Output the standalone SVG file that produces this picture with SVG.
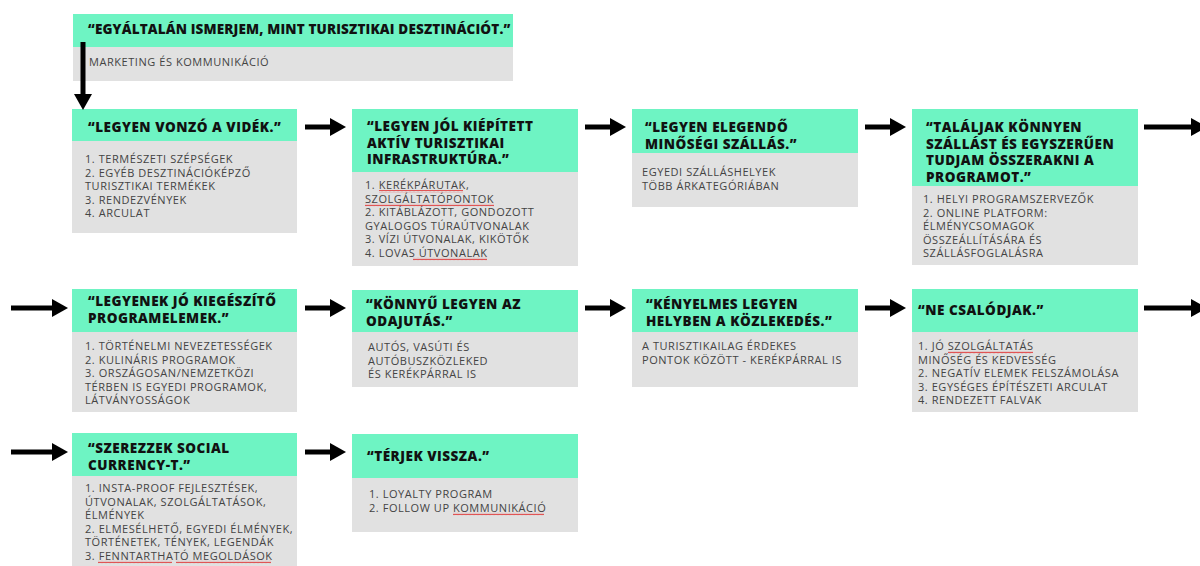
<svg xmlns="http://www.w3.org/2000/svg" width="1200" height="566" viewBox="0 0 1200 566">
<defs>
<style>
.hd{fill:#6EF4C3}
.bd{fill:#E1E1E1}
.t{font-family:"Open Sans","Liberation Sans",sans-serif;font-weight:800;font-size:13.5px;letter-spacing:0.5px;fill:#111}
.b{font-family:"Open Sans","Liberation Sans",sans-serif;font-size:11px;letter-spacing:0.55px;fill:#444}
.c{stroke:#000;stroke-width:5;fill:none}
.sq{fill:url(#squig)}
</style>
<marker id="ah" markerUnits="userSpaceOnUse" markerWidth="16" markerHeight="18" refX="0" refY="9" orient="auto" viewBox="0 0 16 18">
<path d="M0,0 L16,9 L0,18 Z" fill="#000"/>
</marker>
<pattern id="squig" patternUnits="userSpaceOnUse" width="4" height="3">
<path d="M0,2.2 L1,0.8 L2,2.2 L3,0.8 L4,2.2" stroke="#E03030" stroke-width="0.8" fill="none"/>
</pattern>
</defs>
<rect width="1200" height="566" fill="#fff"/>

<g id="n0">
<rect class="hd" x="73" y="14" width="440" height="33"/>
<rect class="bd" x="73" y="47" width="440" height="34"/>
<text class="t" x="88" y="34" style="letter-spacing:0.15px">“EGYÁLTALÁN ISMERJEM, MINT TURISZTIKAI DESZTINÁCIÓT.”</text>
<text class="b" x="89" y="66">MARKETING ÉS KOMMUNIKÁCIÓ</text>
</g>

<g id="n1">
<rect class="hd" x="72" y="109" width="225" height="32"/>
<rect class="bd" x="72" y="141" width="225" height="92"/>
<text class="t" x="88" y="132">“LEGYEN VONZÓ A VIDÉK.”</text>
<text class="b"><tspan x="85" y="163">1. TERMÉSZETI SZÉPSÉGEK</tspan><tspan x="85" y="176.5">2. EGYÉB DESZTINÁCIÓKÉPZŐ</tspan><tspan x="85" y="190">TURISZTIKAI TERMÉKEK</tspan><tspan x="85" y="203.5">3. RENDEZVÉNYEK</tspan><tspan x="85" y="217">4. ARCULAT</tspan></text>
</g>

<g id="n2">
<rect class="hd" x="352" y="109" width="226" height="63"/>
<rect class="bd" x="352" y="172" width="226" height="94"/>
<text class="t"><tspan x="367" y="131">“LEGYEN JÓL KIÉPÍTETT</tspan><tspan x="367" y="148">AKTÍV TURISZTIKAI</tspan><tspan x="367" y="164">INFRASTRUKTÚRA.”</tspan></text>
<text class="b"><tspan x="365" y="189">1. KERÉKPÁRUTAK,</tspan><tspan x="365" y="202.5">SZOLGÁLTATÓPONTOK</tspan><tspan x="365" y="216">2. KITÁBLÁZOTT, GONDOZOTT</tspan><tspan x="365" y="229.5">GYALOGOS TÚRAÚTVONALAK</tspan><tspan x="365" y="243">3. VÍZI ÚTVONALAK, KIKÖTŐK</tspan><tspan x="365" y="256.5">4. LOVAS ÚTVONALAK</tspan></text>
<rect class="sq" x="379" y="190" width="84" height="3"/>
<rect class="sq" x="365" y="203.5" width="129" height="3"/>
<rect class="sq" x="413" y="257.5" width="74" height="3"/>
</g>

<g id="n3">
<rect class="hd" x="632" y="109" width="226" height="44"/>
<rect class="bd" x="632" y="153" width="226" height="54"/>
<text class="t"><tspan x="645" y="132">“LEGYEN ELEGENDŐ</tspan><tspan x="645" y="149">MINŐSÉGI SZÁLLÁS.”</tspan></text>
<text class="b"><tspan x="642" y="176">EGYEDI SZÁLLÁSHELYEK</tspan><tspan x="642" y="189.5">TÖBB ÁRKATEGÓRIÁBAN</tspan></text>
</g>

<g id="n4">
<rect class="hd" x="912" y="109" width="226" height="77"/>
<rect class="bd" x="912" y="186" width="226" height="79"/>
<text class="t"><tspan x="926" y="132">“TALÁLJAK KÖNNYEN</tspan><tspan x="926" y="149">SZÁLLÁST ÉS EGYSZERŰEN</tspan><tspan x="926" y="165">TUDJAM ÖSSZERAKNI A</tspan><tspan x="926" y="182">PROGRAMOT.”</tspan></text>
<text class="b"><tspan x="923" y="203">1. HELYI PROGRAMSZERVEZŐK</tspan><tspan x="923" y="216.5">2. ONLINE PLATFORM:</tspan><tspan x="923" y="230">ÉLMÉNYCSOMAGOK</tspan><tspan x="923" y="243.5">ÖSSZEÁLLÍTÁSÁRA ÉS</tspan><tspan x="923" y="257">SZÁLLÁSFOGLALÁSRA</tspan></text>
</g>

<g id="n5">
<rect class="hd" x="72" y="289" width="225" height="43"/>
<rect class="bd" x="72" y="332" width="225" height="80"/>
<text class="t"><tspan x="88" y="306">“LEGYENEK JÓ KIEGÉSZÍTŐ</tspan><tspan x="88" y="323">PROGRAMELEMEK.”</tspan></text>
<text class="b"><tspan x="85" y="350">1. TÖRTÉNELMI NEVEZETESSÉGEK</tspan><tspan x="85" y="363.5">2. KULINÁRIS PROGRAMOK</tspan><tspan x="85" y="377">3. ORSZÁGOSAN/NEMZETKÖZI</tspan><tspan x="85" y="390.5">TÉRBEN IS EGYEDI PROGRAMOK,</tspan><tspan x="85" y="404">LÁTVÁNYOSSÁGOK</tspan></text>
</g>

<g id="n6">
<rect class="hd" x="352" y="290" width="226" height="42"/>
<rect class="bd" x="352" y="332" width="226" height="55"/>
<text class="t"><tspan x="366" y="309">“KÖNNYŰ LEGYEN AZ</tspan><tspan x="366" y="326">ODAJUTÁS.”</tspan></text>
<text class="b"><tspan x="368" y="351">AUTÓS, VASÚTI ÉS</tspan><tspan x="368" y="364.5">AUTÓBUSZKÖZLEKED</tspan><tspan x="368" y="378">ÉS KERÉKPÁRRAL IS</tspan></text>
</g>

<g id="n7">
<rect class="hd" x="632" y="289" width="226" height="43"/>
<rect class="bd" x="632" y="332" width="226" height="55"/>
<text class="t"><tspan x="646" y="309">“KÉNYELMES LEGYEN</tspan><tspan x="646" y="326">HELYBEN A KÖZLEKEDÉS.”</tspan></text>
<text class="b"><tspan x="642" y="350">A TURISZTIKAILAG ÉRDEKES</tspan><tspan x="642" y="363.5">PONTOK KÖZÖTT - KERÉKPÁRRAL IS</tspan></text>
</g>

<g id="n8">
<rect class="hd" x="912" y="289" width="226" height="43"/>
<rect class="bd" x="912" y="332" width="226" height="80"/>
<text class="t" x="918" y="315">“NE CSALÓDJAK.”</text>
<text class="b"><tspan x="918" y="350">1. JÓ SZOLGÁLTATÁS</tspan><tspan x="918" y="363.5">MINŐSÉG ÉS KEDVESSÉG</tspan><tspan x="918" y="377">2. NEGATÍV ELEMEK FELSZÁMOLÁSA</tspan><tspan x="918" y="390.5">3. EGYSÉGES ÉPÍTÉSZETI ARCULAT</tspan><tspan x="918" y="404">4. RENDEZETT FALVAK</tspan></text>
<rect class="sq" x="948" y="351" width="85" height="3"/>
</g>

<g id="n9">
<rect class="hd" x="72" y="433" width="225" height="43"/>
<rect class="bd" x="72" y="476" width="225" height="90"/>
<text class="t"><tspan x="88" y="453">“SZEREZZEK SOCIAL</tspan><tspan x="88" y="470">CURRENCY-T.”</tspan></text>
<text class="b"><tspan x="85" y="492">1. INSTA-PROOF FEJLESZTÉSEK,</tspan><tspan x="85" y="505.5">ÚTVONALAK, SZOLGÁLTATÁSOK,</tspan><tspan x="85" y="519">ÉLMÉNYEK</tspan><tspan x="85" y="532.5">2. ELMESÉLHETŐ, EGYEDI ÉLMÉNYEK,</tspan><tspan x="85" y="546">TÖRTÉNETEK, TÉNYEK, LEGENDÁK</tspan><tspan x="85" y="559.5">3. FENNTARTHATÓ MEGOLDÁSOK</tspan></text>
<rect class="sq" x="98" y="560.5" width="74" height="3"/>
<rect class="sq" x="176" y="560.5" width="95" height="3"/>
</g>

<g id="n10">
<rect class="hd" x="352" y="434" width="226" height="44"/>
<rect class="bd" x="352" y="478" width="226" height="54"/>
<text class="t" x="367" y="461">“TÉRJEK VISSZA.”</text>
<text class="b"><tspan x="369" y="498">1. LOYALTY PROGRAM</tspan><tspan x="369" y="511.5">2. FOLLOW UP KOMMUNIKÁCIÓ</tspan></text>
<rect class="sq" x="453" y="512.5" width="91" height="3"/>
</g>

<g id="connectors">
<line class="c" x1="83" y1="42" x2="83" y2="94" marker-end="url(#ah)"/>
<line class="c" x1="305" y1="127" x2="330" y2="127" marker-end="url(#ah)"/>
<line class="c" x1="585" y1="127" x2="610" y2="127" marker-end="url(#ah)"/>
<line class="c" x1="865" y1="127" x2="890" y2="127" marker-end="url(#ah)"/>
<line class="c" x1="1144" y1="127" x2="1191" y2="127" marker-end="url(#ah)"/>
<line class="c" x1="11" y1="308" x2="52" y2="308" marker-end="url(#ah)"/>
<line class="c" x1="305" y1="308" x2="330" y2="308" marker-end="url(#ah)"/>
<line class="c" x1="585" y1="308" x2="610" y2="308" marker-end="url(#ah)"/>
<line class="c" x1="865" y1="308" x2="890" y2="308" marker-end="url(#ah)"/>
<line class="c" x1="1144" y1="308" x2="1191" y2="308" marker-end="url(#ah)"/>
<line class="c" x1="11" y1="452" x2="52" y2="452" marker-end="url(#ah)"/>
<line class="c" x1="305" y1="452" x2="330" y2="452" marker-end="url(#ah)"/>
</g>
</svg>
